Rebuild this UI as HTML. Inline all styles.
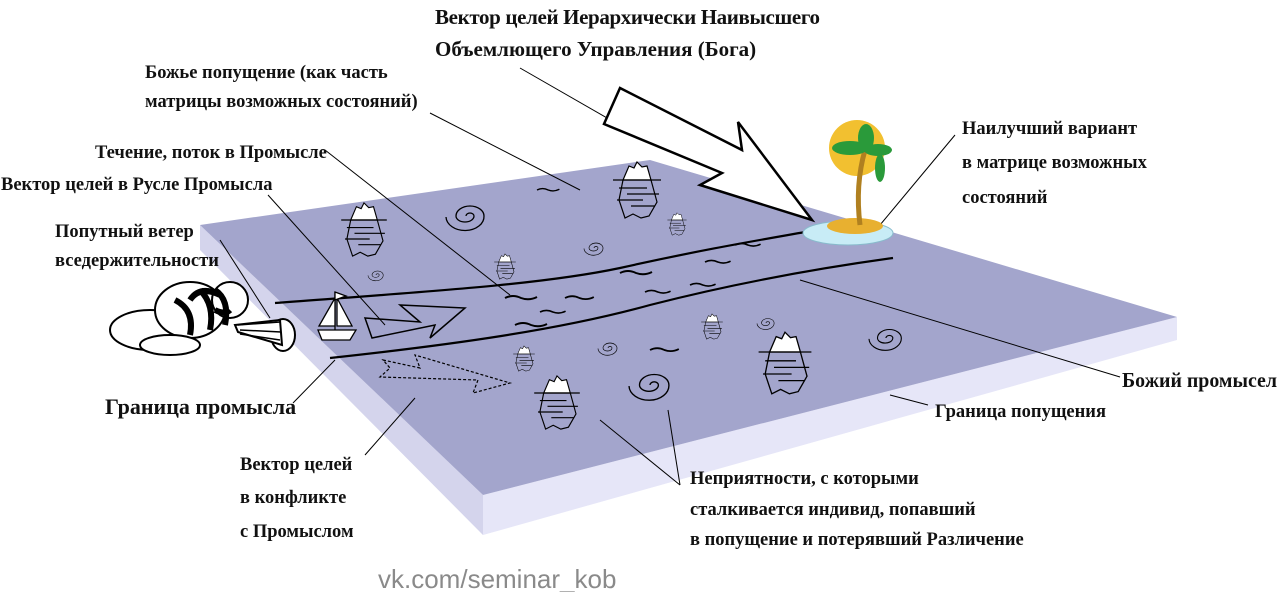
<!DOCTYPE html>
<html><head><meta charset="utf-8"><style>
html,body{margin:0;padding:0;background:#fff;}
svg{display:block}
text{font-family:"Liberation Serif","DejaVu Serif",serif;font-weight:bold;fill:#111;}
</style></head><body>
<svg width="1280" height="592" viewBox="0 0 1280 592" xmlns="http://www.w3.org/2000/svg">
<defs>
<g id="ice"><path d="M-14,0 L-8,-14 L-3,-12 L0,-18 L5,-13 L10,-14 L14,0 Z" fill="#fff" stroke="#000" stroke-width="1.2"/>
<path d="M-14,0 L-18,20 L-12,38 L-4,34 L4,38 L12,36 L20,22 L14,0" fill="none" stroke="#000" stroke-width="1.2"/>
<path d="M-24,0 H24 M-18,8 H10 M-10,14 H22 M-20,20 H6 M-6,26 H18" stroke="#000" stroke-width="1.2"/></g>
<g id="sp"><path d="M0,0 a4,3 0 1 1 8,0 a9,6 0 1 1 -18,0 a14,10 0 1 1 28,0 a19,14 0 1 1 -38,1" fill="none" stroke="#000" stroke-width="1.3"/></g>
<g id="wv"><path d="M0,0 q8,-4 16,0 q8,3 16,-1" fill="none" stroke="#000" stroke-width="2"/></g>
</defs>
<polygon points="200,225 483,495 483,535 200,250" fill="#d4d4ec"/>
<polygon points="483,495 1177,317 1177,340 483,535" fill="#e6e6f8"/>
<polygon points="200,225 650,160 1177,317 483,495" fill="#a3a5cc"/>
<g stroke="#000" stroke-width="1" fill="none">
<line x1="430" y1="113" x2="580" y2="190"/>
<line x1="520" y1="68" x2="628" y2="130"/>
<line x1="325" y1="150" x2="510" y2="295"/>
<line x1="268" y1="195" x2="385" y2="325"/>
<line x1="220" y1="240" x2="270" y2="318"/>
<line x1="293" y1="403" x2="335" y2="360"/>
<line x1="365" y1="455" x2="415" y2="398"/>
<line x1="680" y1="485" x2="600" y2="420"/>
<line x1="680" y1="485" x2="668" y2="410"/>
<line x1="955" y1="135" x2="880" y2="225"/>
<line x1="800" y1="280" x2="1120" y2="377"/>
<line x1="890" y1="395" x2="928" y2="405"/>
</g>
<path d="M275,303 C420,292 540,285 620,268 C700,250 760,240 805,232" fill="none" stroke="#000" stroke-width="2.2"/>
<path d="M330,358 C450,345 560,330 650,305 C740,282 820,268 893,258" fill="none" stroke="#000" stroke-width="2.2"/>
<polygon points="620,88 742,150 738,122 812,220 700,185 722,173 604,124" fill="#fff" stroke="#000" stroke-width="2.5"/>
<polygon points="365,318 420,322 400,305 465,308 430,338 435,325 372,338" fill="none" stroke="#000" stroke-width="1.5"/>
<polygon points="383,360 420,368 415,355 510,383 473,393 478,380 380,377 390,368" fill="none" stroke="#000" stroke-width="1.2" stroke-dasharray="3,2"/>
<use href="#ice" transform="translate(637,180)"/>
<use href="#ice" transform="translate(364,220) scale(0.95)"/>
<use href="#ice" transform="translate(677,220) scale(0.4)"/>
<use href="#ice" transform="translate(505,262) scale(0.45)"/>
<use href="#ice" transform="translate(712,322) scale(0.45)"/>
<use href="#ice" transform="translate(524,354) scale(0.45)"/>
<use href="#ice" transform="translate(557,393) scale(0.95)"/>
<use href="#ice" transform="translate(785,352) scale(1.1)"/>
<use href="#sp" transform="translate(466,216)"/>
<use href="#sp" transform="translate(594,248) scale(0.5)"/>
<use href="#sp" transform="translate(376,275) scale(0.4)"/>
<use href="#sp" transform="translate(608,348) scale(0.5)"/>
<use href="#sp" transform="translate(650,385) scale(1.05)"/>
<use href="#sp" transform="translate(886,338) scale(0.85)"/>
<use href="#sp" transform="translate(766,323) scale(0.45)"/>
<use href="#wv" transform="translate(537,190) scale(0.7)"/>
<use href="#wv" transform="translate(505,298)"/>
<use href="#wv" transform="translate(540,312) scale(0.8)"/>
<use href="#wv" transform="translate(565,298) scale(0.9)"/>
<use href="#wv" transform="translate(515,325)"/>
<use href="#wv" transform="translate(620,273)"/>
<use href="#wv" transform="translate(645,292) scale(0.8)"/>
<use href="#wv" transform="translate(690,285) scale(0.8)"/>
<use href="#wv" transform="translate(705,262) scale(0.8)"/>
<use href="#wv" transform="translate(735,245) scale(0.8)"/>
<use href="#wv" transform="translate(650,350) scale(0.9)"/>
<g stroke="#000" stroke-width="1.3" fill="#fff">
<line x1="335" y1="292" x2="335" y2="330"/>
<polygon points="335,298 319,326 335,326"/>
<polygon points="337,298 352,326 337,326"/>
<polygon points="335,292 346,296 335,300" fill="#fff"/>
<path d="M318,330 H356 L350,340 H322 Z"/>
</g>
<g stroke="#000" stroke-width="2" fill="#fff">
<ellipse cx="150" cy="330" rx="40" ry="20"/>
<ellipse cx="190" cy="310" rx="35" ry="28"/>
<ellipse cx="230" cy="300" rx="18" ry="18"/>
<ellipse cx="170" cy="345" rx="30" ry="10"/>
<ellipse cx="283" cy="335" rx="12" ry="16"/>
<polygon points="235,325 280,320 282,345 238,332" fill="#fff"/>
</g>
<path d="M175,300 q20,10 15,35 M200,290 q15,15 10,40 M215,310 q10,5 15,0 M190,300 q10,-15 30,-5 M215,290 q15,10 10,35" stroke="#000" stroke-width="6" fill="none"/>
<path d="M238,325 L280,322 M240,330 L281,332 M240,334 L280,340" stroke="#000" stroke-width="1.5"/>
<ellipse cx="848" cy="233" rx="45" ry="12" fill="#c8ecf6" stroke="#8bc" stroke-width="1"/>
<ellipse cx="855" cy="226" rx="28" ry="8" fill="#e8b030"/>
<circle cx="857" cy="148" r="28" fill="#f2c030"/>
<path d="M860,225 q-5,-40 5,-75" stroke="#b08020" stroke-width="5" fill="none"/>
<g fill="#2a9a3a"><ellipse cx="850" cy="148" rx="18" ry="7"/><ellipse cx="878" cy="150" rx="14" ry="6"/><ellipse cx="866" cy="138" rx="8" ry="14"/><ellipse cx="880" cy="168" rx="5" ry="14"/></g>
<g font-size="21">
<text x="435" y="24" textLength="385">Вектор целей Иерархически Наивысшего</text>
<text x="435" y="56">Объемлющего Управления (Бога)</text>
</g>
<g font-size="18.5">
<text x="145" y="78">Божье попущение (как часть</text>
<text x="145" y="107">матрицы возможных состояний)</text>
<text x="95" y="158">Течение, поток в Промысле</text>
<text x="1" y="190">Вектор целей в Русле Промысла</text>
<text x="55" y="237">Попутный ветер</text>
<text x="55" y="266">вседержительности</text>
<text x="240" y="470">Вектор целей</text>
<text x="240" y="503">в конфликте</text>
<text x="240" y="537">с Промыслом</text>
<text x="690" y="484">Неприятности, с которыми</text>
<text x="690" y="515">сталкивается индивид, попавший</text>
<text x="690" y="545">в попущение и потерявший Различение</text>
<text x="962" y="134">Наилучший вариант</text>
<text x="962" y="168">в матрице возможных</text>
<text x="962" y="203">состояний</text>
<text x="935" y="417">Граница попущения</text>
</g>
<text x="105" y="414" font-size="22">Граница промысла</text>
<text x="1122" y="387" font-size="21" textLength="155" lengthAdjust="spacingAndGlyphs">Божий промысел</text>
<text x="378" y="588" font-size="26" style="font-family:'Liberation Sans',sans-serif;font-weight:normal;fill:#8a8a8a">vk.com/seminar_kob</text>
</svg>
</body></html>
